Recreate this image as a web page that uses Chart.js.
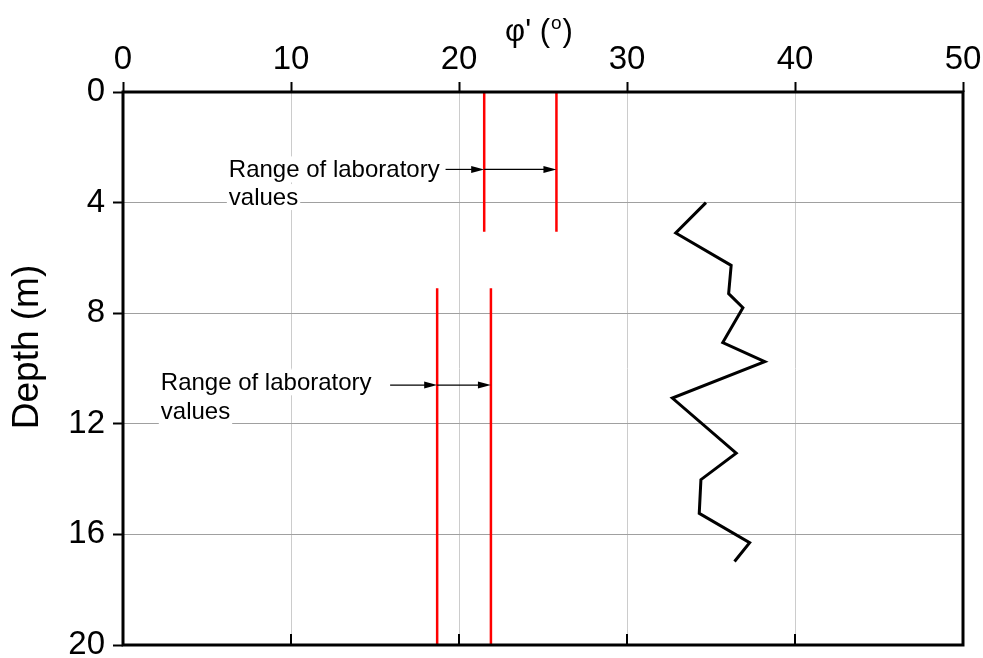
<!DOCTYPE html>
<html lang="en">
<head>
    <meta charset="UTF-8">
    <title>friction angle vs depth</title>
    <script src="https://cdn.jsdelivr.net/npm/chart.js"></script>
    <style>
        body {
            margin: 0;
            background: white;
        }
        #wrap {
            width: 983px;
            height: 658px;
        }
    </style>
</head>
<body>
    <div id="wrap"><canvas id="phiChart" width="983" height="658"></canvas></div>

    <script>
        // measured profile (phi' in degrees, depth in m)
        let phiValues = [34.7, 32.9, 36.2, 36.05, 36.9, 35.7, 38.2, 32.7, 36.5, 34.4, 34.3, 37.3, 36.4];
        let depthValues = [4.0, 5.1, 6.27, 7.29, 7.8, 9.06, 9.75, 11.07, 13.06, 14.02, 15.24, 16.3, 16.98];

        // laboratory ranges: [phi, top depth, bottom depth]
        let labUpperPhi = [21.5, 25.8];
        let labUpperDepth = [0, 5.05];
        let labLowerPhi = [18.7, 21.9];
        let labLowerDepth = [7.1, 20];

        // arrow start and depth for the two notes
        let arrowStartPhi = [19.2, 15.9];
        let arrowDepth = [2.8, 10.6];
        let noteLines = ["Range of laboratory", "values"];
        let notePhi = [6.3, 2.25];
        let noteDepth = [[2.8, 3.8], [10.5, 11.55]];

        let xTicks = [0, 10, 20, 30, 40, 50];
        let yTicks = [0, 4, 8, 12, 16, 20];

        const FONT = "'Liberation Sans', Arial, sans-serif";

        function vline(phi, depths) {
            return depths.map(d => ({ x: phi, y: d }));
        }

        let datasets = [{
            data: phiValues.map((p, i) => ({ x: p, y: depthValues[i] })),
            borderColor: "#000000",
            borderWidth: 3,
            pointRadius: 0,
            showLine: true,
            tension: 0
        }];
        labUpperPhi.forEach(p => datasets.push({
            data: vline(p, labUpperDepth), borderColor: "#ff0000", borderWidth: 2.5,
            pointRadius: 0, showLine: true
        }));
        labLowerPhi.forEach(p => datasets.push({
            data: vline(p, labLowerDepth), borderColor: "#ff0000", borderWidth: 2.5,
            pointRadius: 0, showLine: true
        }));

        function arrow(ctx, x1, x2, y) {
            ctx.beginPath();
            ctx.moveTo(x1, y);
            ctx.lineTo(x2 - 10, y);
            ctx.stroke();
            ctx.beginPath();
            ctx.moveTo(x2, y);
            ctx.lineTo(x2 - 13, y - 3.5);
            ctx.lineTo(x2 - 13, y + 3.5);
            ctx.closePath();
            ctx.fill();
        }

        let notesPlugin = {
            id: "notes",
            // notes with white boxes, under the red lines
            beforeDatasetsDraw(chart) {
                let ctx = chart.ctx;
                let xs = chart.scales.x, ys = chart.scales.y;
                ctx.save();
                ctx.font = "24px " + FONT;
                ctx.textBaseline = "middle";
                for (let n = 0; n < 2; n++) {
                    let left = xs.getPixelForValue(notePhi[n]);
                    noteLines.forEach((t, k) => {
                        let cy = ys.getPixelForValue(noteDepth[n][k]);
                        let w = ctx.measureText(t).width;
                        ctx.fillStyle = "white";
                        ctx.fillRect(left - 2, cy - 13, w + 4, 26);
                        ctx.fillStyle = "black";
                        ctx.fillText(t, left, cy + 1);
                    });
                }
                ctx.restore();
            },
            afterDatasetsDraw(chart) {
                let ctx = chart.ctx;
                let xs = chart.scales.x, ys = chart.scales.y;
                let ranges = [labUpperPhi, labLowerPhi];
                ctx.save();
                ctx.strokeStyle = "black";
                ctx.fillStyle = "black";
                ctx.lineWidth = 1.2;
                for (let n = 0; n < 2; n++) {
                    let y = ys.getPixelForValue(arrowDepth[n]);
                    let a = xs.getPixelForValue(arrowStartPhi[n]);
                    let b = xs.getPixelForValue(ranges[n][0]);
                    let c = xs.getPixelForValue(ranges[n][1]);
                    arrow(ctx, a, b, y);
                    arrow(ctx, b, c, y);
                }
                ctx.restore();
            },
            afterDraw(chart) {
                let ctx = chart.ctx;
                let a = chart.chartArea;
                let xs = chart.scales.x;
                ctx.save();
                ctx.strokeStyle = "black";
                ctx.lineWidth = 3;
                ctx.strokeRect(a.left, a.top, a.right - a.left, a.bottom - a.top);
                // inward ticks on bottom edge
                ctx.lineWidth = 2;
                xTicks.forEach(v => {
                    let px = Math.round(xs.getPixelForValue(v));
                    ctx.beginPath();
                    ctx.moveTo(px, a.bottom);
                    ctx.lineTo(px, a.bottom - 11);
                    ctx.stroke();
                });

                // axis titles
                ctx.fillStyle = "black";
                ctx.textBaseline = "middle";
                ctx.save();
                ctx.translate(28, 347);
                ctx.rotate(-Math.PI / 2);
                ctx.textAlign = "center";
                ctx.font = "37px " + FONT;
                ctx.fillText("Depth (m)", 0, 0);
                ctx.restore();

                ctx.textAlign = "left";
                ctx.font = "31px " + FONT;
                let p1 = "φ' (", sup = "o", p2 = ")";
                let w1 = ctx.measureText(p1).width;
                let w3 = ctx.measureText(p2).width;
                ctx.font = "19px " + FONT;
                let w2 = ctx.measureText(sup).width;
                let x0 = 539 - (w1 + w2 + w3 + 2) / 2;
                ctx.font = "31px " + FONT;
                ctx.fillText(p1, x0, 32);
                ctx.fillText(p2, x0 + w1 + w2 + 2, 32);
                ctx.font = "19px " + FONT;
                ctx.fillText(sup, x0 + w1 + 1, 24);
                ctx.restore();
            }
        };

        let ctx = document.getElementById("phiChart").getContext("2d");
        new Chart(ctx, {
            type: "scatter",
            data: { datasets: datasets },
            options: {
                responsive: false,
                animation: false,
                layout: { padding: { left: 0, top: 0, right: 20, bottom: 13 } },
                plugins: { legend: { display: false }, tooltip: { enabled: false } },
                scales: {
                    x: {
                        type: "linear",
                        position: "top",
                        min: 0,
                        max: 50,
                        afterBuildTicks: s => { s.ticks = xTicks.map(v => ({ value: v })); },
                        afterFit: s => { s.height = 92; s.paddingLeft = 0; s.paddingRight = 0; },
                        ticks: {
                            color: "#000",
                            padding: 2,
                            font: { family: FONT, size: 33 }
                        },
                        grid: {
                            color: "#cccccc",
                            lineWidth: 1,
                            tickColor: "#000",
                            tickWidth: 2,
                            tickLength: 10
                        },
                        border: { display: false }
                    },
                    y: {
                        type: "linear",
                        reverse: true,
                        min: 0,
                        max: 20,
                        afterBuildTicks: s => { s.ticks = yTicks.map(v => ({ value: v })); },
                        afterFit: s => { s.width = 123; s.paddingTop = 0; s.paddingBottom = 0; },
                        ticks: {
                            color: "#000",
                            padding: 8,
                            font: { family: FONT, size: 33 }
                        },
                        grid: {
                            color: "#a0a0a0",
                            lineWidth: 1,
                            tickColor: "#000",
                            tickWidth: 2,
                            tickLength: 10
                        },
                        border: { display: false }
                    }
                }
            },
            plugins: [notesPlugin]
        });
    </script>
</body>
</html>
